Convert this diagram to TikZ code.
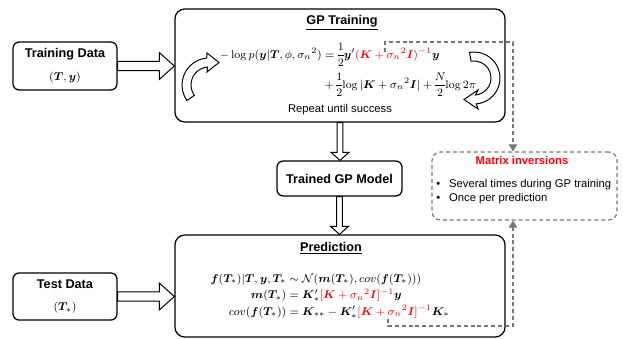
\documentclass[tikz,border=0pt]{standalone}
\usepackage{amsmath}
\usepackage{bm}
\usepackage[no-math]{fontspec}
\setmainfont{Liberation Sans}
\usetikzlibrary{arrows.meta,calc}

\definecolor{dashgray}{RGB}{118,118,118}

\tikzset{
    box/.style={draw, line width=0.9pt, rounded corners=4.5pt, align=center},
    bigbox/.style={draw, line width=0.9pt, rounded corners=7pt},
    hollow/.style={draw, fill=white, line width=0.7pt, line join=miter},
    dashline/.style={dashgray, line width=0.85pt, dash pattern=on 2.8pt off 2.1pt},
    dasharrow/.style={dashline, -{Triangle[width=6pt,length=5pt]}},
    title/.style={font=\fontsize{9}{11}\selectfont\bfseries},
    eq/.style={font=\fontsize{8.3}{10.5}\selectfont}
}

% hollow block arrows
\newcommand{\rightblock}[2]{%
    \draw[hollow] let \p1=(#1), \p2=(#2) in
        (\x1,\y1+3.3pt) -- (\x2-10.7pt,\y1+3.3pt) -- (\x2-10.7pt,\y1+9.6pt) -- (\x2,\y1)
        -- (\x2-10.7pt,\y1-9.6pt) -- (\x2-10.7pt,\y1-3.3pt) -- (\x1,\y1-3.3pt) -- cycle;}
\newcommand{\downblock}[2]{%
    \draw[hollow] let \p1=(#1), \p2=(#2) in
        (\x1-2.1pt,\y1) -- (\x1-2.1pt,\y2+5.7pt) -- (\x1-6.4pt,\y2+5.7pt) -- (\x1,\y2)
        -- (\x1+6.4pt,\y2+5.7pt) -- (\x1+2.1pt,\y2+5.7pt) -- (\x1+2.1pt,\y1) -- cycle;}

\begin{document}
\begin{tikzpicture}[x=0.025cm, y=0.025cm, font=\fontsize{8}{10}\selectfont]
    \useasboundingbox (0,0) rectangle (623,-339);

    % inputs
    \node[box, minimum width=2.6cm, minimum height=1.2cm] (train) at (65,-66)
        {\textbf{\fontsize{9}{11}\selectfont Training Data}\\[6pt]$(\bm{T},\bm{y})$};
    \node[box, minimum width=2.6cm, minimum height=1.18cm] (test) at (65,-296.5)
        {\textbf{\fontsize{9}{11}\selectfont Test Data}\\[6pt]$(\bm{T}_*)$};

    % training stage
    \node[bigbox, minimum width=8.25cm, minimum height=2.825cm] (gp) at (340,-65.5) {};
    \node[title] (gptitle) at (342,-23) {\underline{GP Training}};
    \node[eq] (gpeq) at (348,-70) {\nulldelimiterspace=0pt$\begin{aligned}
        -\log p(\bm{y}|\bm{T},\phi,\sigma_n{}^2) &= \frac{1}{2}\bm{y}'\textcolor{red}{(\bm{K}+\sigma_n{}^2\bm{I})^{-1}}\bm{y}\\
        &+\frac{1}{2}\!\log|\bm{K}+\sigma_n{}^2\bm{I}|+\frac{N}{2}\!\log 2\pi
    \end{aligned}$};
    \node (repeat) at (340,-110) {Repeat until success};

    % loop arrows
    \draw[hollow] ([shift={(209,-85)}]215:27) arc[start angle=215, end angle=95, radius=27]
        -- (207,-53) -- (219,-62.5) -- (207,-72)
        -- ([shift={(209,-85)}]95:18) arc[start angle=95, end angle=215, radius=18] -- cycle;
    \draw[hollow] ([shift={(474,-78)}]100:26) arc[start angle=100, end angle=-85, radius=26]
        -- (478,-109) -- (464,-99.5) -- (478,-90)
        -- ([shift={(474,-78)}]-85:17) arc[start angle=-85, end angle=100, radius=17] -- cycle;

    \node[box, minimum width=3.125cm, minimum height=0.875cm] (model) at (339.5,-178.5)
        {\textbf{\fontsize{9}{11}\selectfont Trained GP Model}};

    % prediction stage
    \node[bigbox, minimum width=8.25cm, minimum height=2.55cm] (pred) at (340,-286) {};
    \node[title] (predtitle) at (331,-248) {\underline{Prediction}};
    \node[eq, font=\fontsize{7.9}{10}\selectfont] (predeq) at (330,-296) {\setlength{\jot}{0.5pt}$\begin{aligned}
        \bm{f}(\bm{T}_*)|\bm{T},\bm{y},\bm{T}_* &\sim \mathcal{N}(\bm{m}(\bm{T}_*),cov(\bm{f}(\bm{T}_*)))\\
        \bm{m}(\bm{T}_*) &= \bm{K}_*^{\prime}\textcolor{red}{[\bm{K}+\sigma_n{}^2\bm{I}]^{-1}}\bm{y}\\
        cov(\bm{f}(\bm{T}_*)) &= \bm{K}_{**}-\bm{K}_*^{\prime}\textcolor{red}{[\bm{K}+\sigma_n{}^2\bm{I}]^{-1}}\bm{K}_*
    \end{aligned}$};

    % matrix inversion note
    \node[draw, dashline, rounded corners=6pt, minimum width=4.625cm, minimum height=1.7cm] (mat) at (524.5,-186) {};
    \node[text=red, font=\fontsize{8}{10}\selectfont\bfseries] (mattitle) at (522,-160) {Matrix inversions};
    \node[anchor=west, align=left, inner sep=0pt] (matlist) at (436,-192)
        {\textbullet\hspace{0.8em}Several times during GP training\\\textbullet\hspace{0.8em}Once per prediction};

    % flow
    \rightblock{train.east}{gp.west |- train.east}
    \rightblock{test.east}{pred.west |- test.east}
    \downblock{gp.south}{model.north}
    \downblock{model.south}{pred.north}

    \coordinate (invtrain) at (385,-52);
    \coordinate (bendtrain) at (513,-42);
    \coordinate (invpred) at (388,-319);
    \coordinate (bendpred) at (513,-326);
    \draw[dasharrow] (invtrain) |- (bendtrain) -- (bendtrain |- mat.north);
    \draw[dasharrow] (invpred) |- (bendpred) -- (bendpred |- mat.south);
\end{tikzpicture}
\end{document}
